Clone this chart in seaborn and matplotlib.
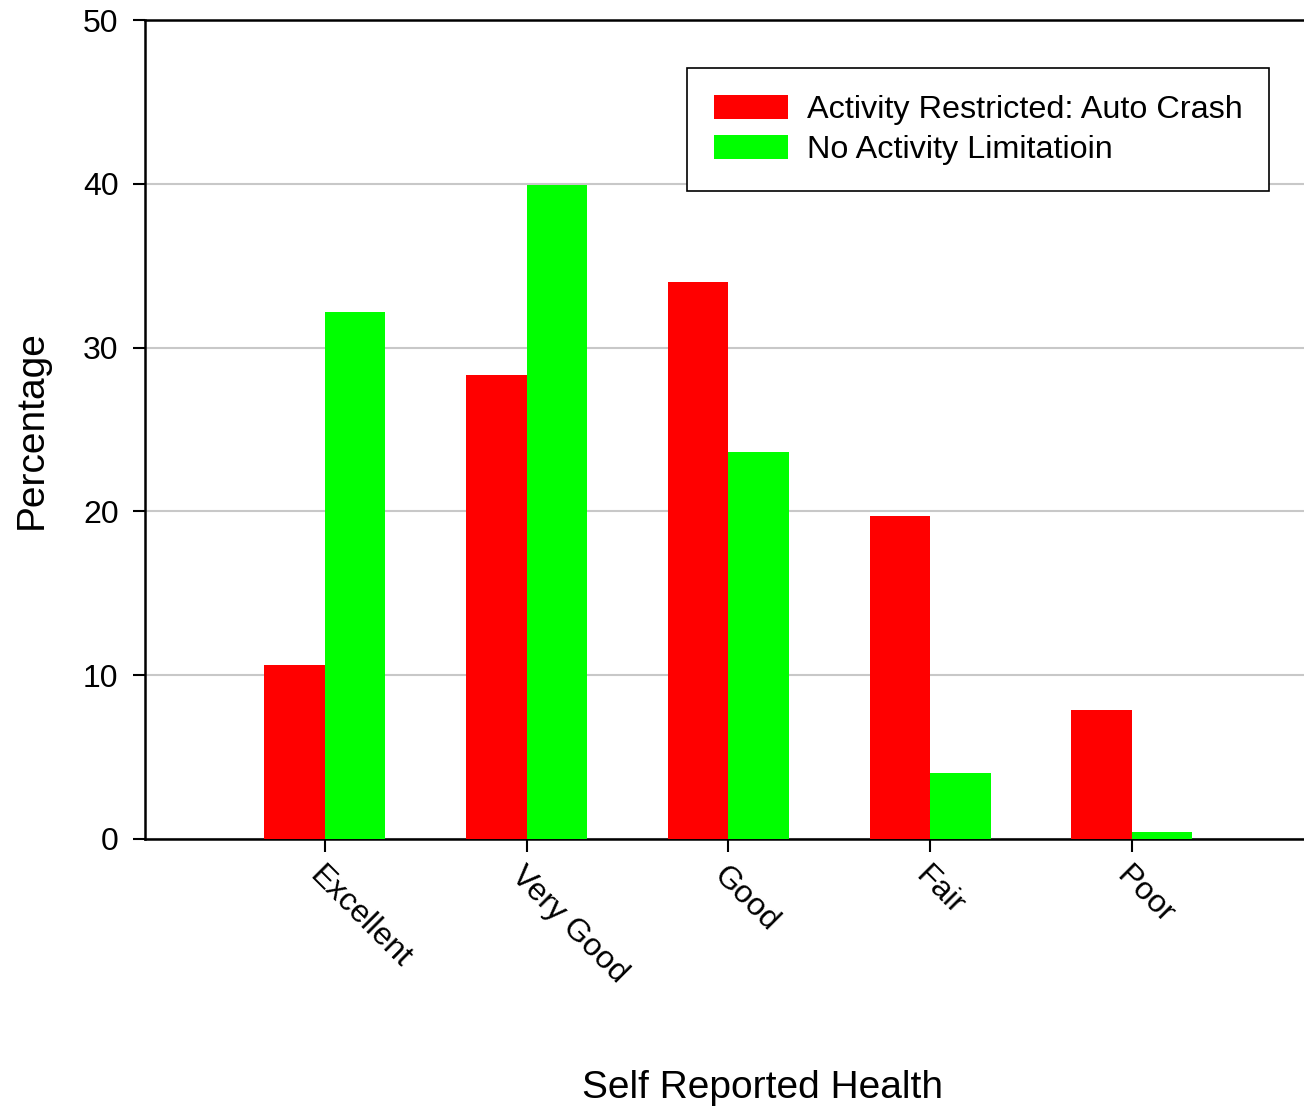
import seaborn as sns
import matplotlib.pyplot as plt
import pandas as pd

categories = ["Excellent", "Very Good", "Good", "Fair", "Poor"]
restricted = [10.6, 28.3, 34.0, 19.7, 7.9]
no_limit = [32.2, 39.9, 23.6, 4.0, 0.45]
series_names = ["Activity Restricted: Auto Crash", "No Activity Limitatioin"]
y_ticks = [0, 10, 20, 30, 40, 50]

df = pd.DataFrame({
    "health": categories * 2,
    "pct": restricted + no_limit,
    "group": [series_names[0]] * len(categories) + [series_names[1]] * len(categories),
})

sns.set_style("white")
plt.rcParams['font.family'] = ['Liberation Sans', 'DejaVu Sans']
plt.rcParams['text.color'] = "black"
plt.rcParams['axes.labelcolor'] = "black"
plt.rcParams['xtick.color'] = "black"
plt.rcParams['ytick.color'] = "black"

fig = plt.figure(figsize=(13.04, 11.09), dpi=100)
ax = fig.add_axes([145 / 1304, 1 - 839 / 1109, 1 - 145 / 1304, (839 - 20) / 1109])

sns.barplot(data=df, x="health", y="pct", hue="group", order=categories,
            hue_order=series_names, palette=["#FF0000", "#00FF00"],
            width=0.6, linewidth=0, saturation=1, ax=ax, zorder=3)

ax.set_xlim(-0.892, 4.853)
ax.set_ylim(0, 50)
ax.set_yticks(y_ticks)
ax.yaxis.grid(True, color="#C8C8C8", linewidth=1.5, zorder=0)
ax.set_axisbelow(True)

for side in ["left", "bottom", "top"]:
    ax.spines[side].set_color("black")
    ax.spines[side].set_linewidth(1.8)
ax.spines["right"].set_visible(False)

ax.tick_params(axis="y", direction="out", length=9, width=1.5, pad=10,
               labelsize=23, left=True)
ax.tick_params(axis="x", direction="out", length=9, width=1.5, pad=7,
               labelsize=23, bottom=True)
for lab in ax.get_xticklabels():
    lab.set_rotation(-45)
    lab.set_ha("left")
    lab.set_va("top")
    lab.set_rotation_mode("anchor")

ax.set_xlabel("Self Reported Health", fontsize=28)
ax.set_ylabel("Percentage", fontsize=28)
ax.xaxis.set_label_coords(0.533, -0.282)
ax.yaxis.set_label_coords(-0.082, 0.5)

leg = ax.legend(loc="upper right", bbox_to_anchor=(1269 / 1304, 1 - 68 / 1109),
                bbox_transform=fig.transFigure, fontsize=23.3, frameon=True,
                fancybox=False, handlelength=2.28, handleheight=0.77,
                borderpad=0.82, labelspacing=0.3, handletextpad=0.59,
                borderaxespad=0)
leg.get_frame().set_edgecolor("black")
leg.get_frame().set_linewidth(1.2)
leg.get_frame().set_alpha(1)

fig.savefig("out.png", dpi=100)
